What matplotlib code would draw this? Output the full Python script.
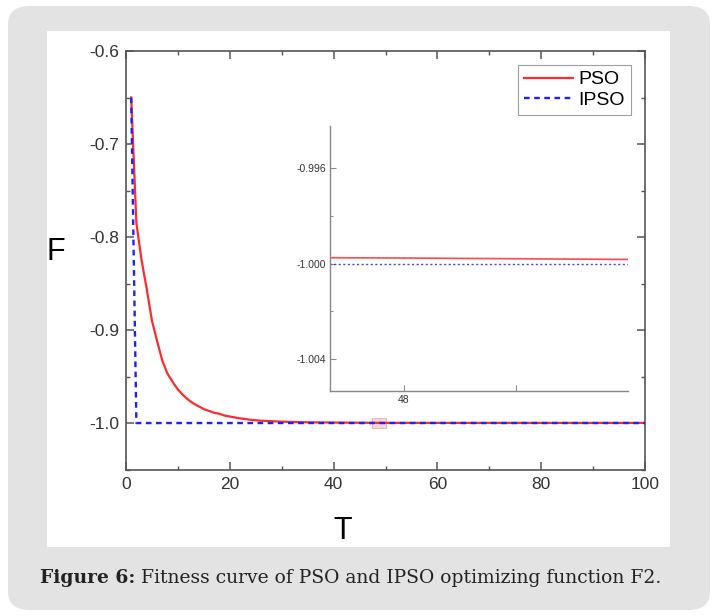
import matplotlib
matplotlib.use('Agg')
import matplotlib.pyplot as plt
from matplotlib.patches import FancyBboxPatch, Rectangle
from matplotlib.ticker import MultipleLocator, FixedLocator, FixedFormatter, FormatStrFormatter

# ---------------- data ----------------
t_pso = [1, 2, 3, 4, 5, 6, 7, 8, 9, 10, 11, 12, 13, 14, 15, 16, 17, 18, 19, 20,
         22, 24, 26, 28, 30, 33, 36, 40, 45, 47, 48, 49, 50, 60, 70, 80, 90, 100]
f_pso = [-0.650, -0.785, -0.825, -0.856, -0.890, -0.912, -0.933, -0.947, -0.956, -0.964,
         -0.970, -0.975, -0.979, -0.982, -0.985, -0.987, -0.989, -0.990, -0.992, -0.993,
         -0.995, -0.9965, -0.9975, -0.998, -0.9985, -0.999, -0.9993, -0.9995, -0.9997,
         -0.99975, -0.99977, -0.9998, -0.99983, -0.99985, -0.99987, -0.99988, -0.99989, -0.9999]
t_ipso = [1, 2, 10, 20, 30, 40, 50, 60, 70, 80, 90, 100]
f_ipso = [-0.650, -1.0, -1.0, -1.0, -1.0, -1.0, -1.0, -1.0, -1.0, -1.0, -1.0, -1.0]

inset_xlim = (47.34, 50.0)
inset_ylim = (-1.00534, -0.99424)
inset_xticks = [48, 49]
inset_xticklabels = ['48', '']

caption_bold = 'Figure 6:'
caption_rest = ' Fitness curve of PSO and IPSO optimizing function F2.'

# ---------------- style ----------------
W, H = 718, 616
pso_color = '#ff2a2a'
ipso_color = '#1f1fff'
spine_color = '#555555'
label_color = '#333333'
caption_font = 13.5
plt.rcParams['font.family'] = ['Liberation Sans', 'DejaVu Sans']

fig = plt.figure(figsize=(W / 100, H / 100), dpi=100)
fig.patch.set_facecolor('white')

# grey card and white panel
card = FancyBboxPatch((8 / W, 6 / H), 702 / W, 604 / H,
                      boxstyle='round,pad=0,rounding_size=0.03',
                      transform=fig.transFigure, facecolor='#e3e3e3',
                      edgecolor='none', zorder=-10)
fig.add_artist(card)
panel = Rectangle((47 / W, (H - 547) / H), 623 / W, 516 / H,
                  transform=fig.transFigure, facecolor='white',
                  edgecolor='none', zorder=-9)
fig.add_artist(panel)

# ---------------- main axes ----------------
ax = fig.add_axes([126 / W, (H - 470) / H, 519 / W, 419 / H])
ax.set_facecolor('none')
ax.plot(t_pso, f_pso, color=pso_color, linewidth=1.6, label='PSO', zorder=3)
ax.plot(t_ipso, f_ipso, color=ipso_color, linewidth=1.7, linestyle=(0, (2.4, 1.9)),
        label='IPSO', zorder=4)

# zoom region marker
ax.add_patch(Rectangle((inset_xlim[0], inset_ylim[0]),
                       inset_xlim[1] - inset_xlim[0], inset_ylim[1] - inset_ylim[0],
                       facecolor='#f4c8c8', edgecolor='#e8a0a0', alpha=0.7,
                       linewidth=0.8, zorder=2))

ax.set_xlim(0, 100)
ax.set_ylim(-1.0505, -0.6)
ax.xaxis.set_major_locator(MultipleLocator(20))
ax.xaxis.set_minor_locator(MultipleLocator(10))
ax.yaxis.set_major_locator(MultipleLocator(0.1))
ax.yaxis.set_minor_locator(MultipleLocator(0.05))
ax.yaxis.set_major_formatter(FormatStrFormatter('%.1f'))

for s in ax.spines.values():
    s.set_color(spine_color)
    s.set_linewidth(1.2)
ax.tick_params(axis='both', which='major', direction='in', length=6, width=1.1,
               color=spine_color, labelsize=12.5, labelcolor=label_color, pad=5,
               top=True, right=True)
ax.tick_params(axis='both', which='minor', direction='in', length=3, width=1.0,
               color=spine_color, top=True, right=True)

fig.text(56 / W, 1 - 252 / H, 'F', fontsize=22, ha='center', va='center')
fig.text(343 / W, 1 - 531 / H, 'T', fontsize=22, ha='center', va='center')

leg = ax.legend(loc='upper right', fontsize=14, handlelength=2.5, handletextpad=0.3,
                borderaxespad=0.72, borderpad=0.3, labelspacing=0.15, fancybox=False)
leg.get_frame().set_edgecolor('#888888')
leg.get_frame().set_linewidth(0.8)

# ---------------- inset ----------------
axin = fig.add_axes([330 / W, (H - 391) / H, 298 / W, 265 / H])
axin.set_facecolor('none')
axin.plot(t_pso, f_pso, color=pso_color, linewidth=1.2, alpha=0.85)
axin.plot(t_ipso, f_ipso, color=ipso_color, linewidth=1.0, linestyle=(0, (1.5, 1.8)),
          alpha=0.85)
axin.set_xlim(*inset_xlim)
axin.set_ylim(*inset_ylim)
axin.xaxis.set_major_locator(FixedLocator(inset_xticks))
axin.xaxis.set_major_formatter(FixedFormatter(inset_xticklabels))
axin.yaxis.set_major_locator(MultipleLocator(0.004))
axin.yaxis.set_minor_locator(MultipleLocator(0.002))
axin.yaxis.set_major_formatter(FormatStrFormatter('%.3f'))
axin.spines['top'].set_visible(False)
axin.spines['right'].set_visible(False)
for side in ('left', 'bottom'):
    axin.spines[side].set_color('#888888')
    axin.spines[side].set_linewidth(1.0)
axin.tick_params(axis='both', which='major', direction='in', length=4, width=0.8,
                 color='#888888', labelsize=7.5, labelcolor=label_color, pad=3)
axin.tick_params(axis='both', which='minor', direction='in', length=2.5, width=0.8,
                 color='#888888')

# ---------------- caption ----------------
cap = fig.text(40 / W, 1 - 578 / H, caption_bold, fontsize=caption_font, fontweight='bold',
               family='DejaVu Serif', color='#222222', va='center', ha='left')
plt.annotate(caption_rest, xy=(1, 0), xycoords=cap, va='bottom', ha='left',
             fontsize=caption_font, family='DejaVu Serif', color='#222222',
             annotation_clip=False)

fig.savefig('out.png', dpi=100)
